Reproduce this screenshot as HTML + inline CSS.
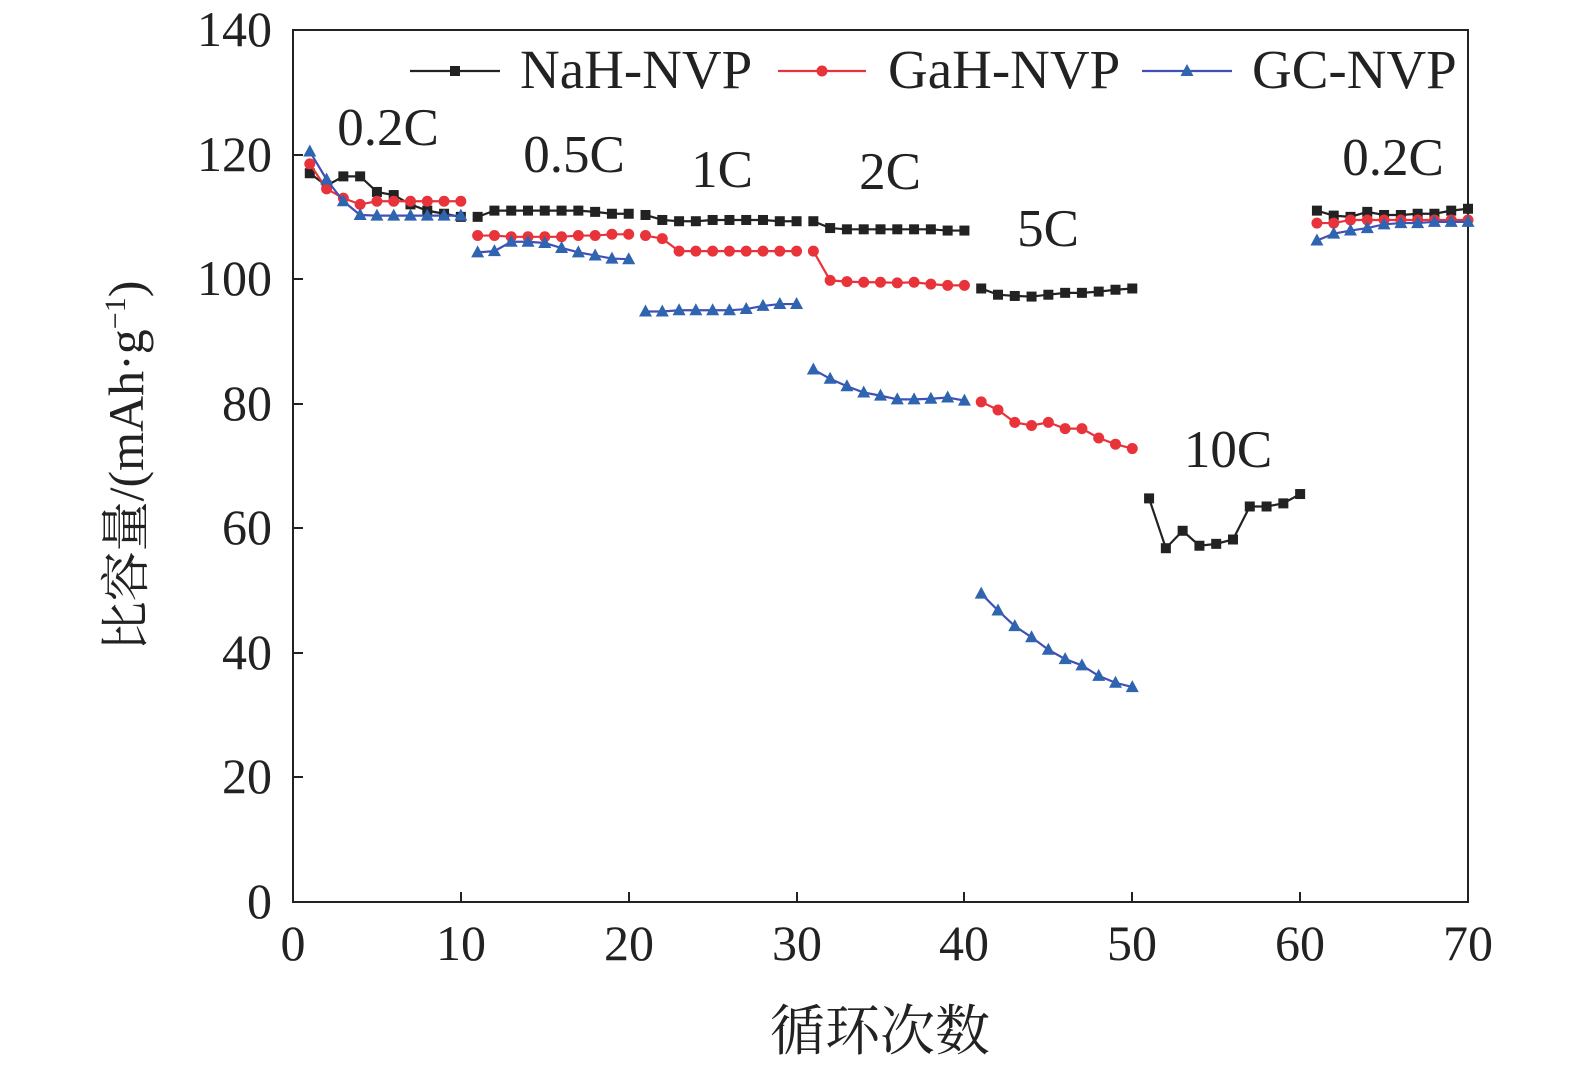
<!DOCTYPE html>
<html><head><meta charset="utf-8"><style>
html,body{margin:0;padding:0;background:#fff;}
svg text{font-family:"Liberation Serif","Noto Serif CJK SC",serif;fill:#222;}
</style></head><body>
<svg id="s" width="1575" height="1072" xmlns="http://www.w3.org/2000/svg">
<rect x="293" y="30" width="1175" height="872" fill="none" stroke="#222" stroke-width="2"/>
<g stroke="#222" stroke-width="2">
<line x1="293" y1="902" x2="293" y2="892"/><line x1="461" y1="902" x2="461" y2="892"/><line x1="629" y1="902" x2="629" y2="892"/><line x1="797" y1="902" x2="797" y2="892"/><line x1="964" y1="902" x2="964" y2="892"/><line x1="1132" y1="902" x2="1132" y2="892"/><line x1="1300" y1="902" x2="1300" y2="892"/>
<line x1="293" y1="777" x2="303" y2="777"/><line x1="293" y1="653" x2="303" y2="653"/><line x1="293" y1="528" x2="303" y2="528"/><line x1="293" y1="404" x2="303" y2="404"/><line x1="293" y1="279" x2="303" y2="279"/><line x1="293" y1="155" x2="303" y2="155"/>
</g>
<g font-size="50" text-anchor="middle">
<text x="293" y="960">0</text><text x="461" y="960">10</text><text x="629" y="960">20</text><text x="797" y="960">30</text><text x="964" y="960">40</text><text x="1132" y="960">50</text><text x="1300" y="960">60</text><text x="1468" y="960">70</text>
</g>
<g font-size="50" text-anchor="end">
<text x="272" y="918">0</text><text x="272" y="793">20</text><text x="272" y="669">40</text><text x="272" y="544">60</text><text x="272" y="420">80</text><text x="272" y="295">100</text><text x="272" y="171">120</text><text x="272" y="46">140</text>
</g>
<text x="880" y="1050" font-size="55" text-anchor="middle">循环次数</text>
<text transform="translate(143,466) rotate(-90)" font-size="50" text-anchor="middle">比容量/(mAh·g<tspan dy="-18" font-size="30">−1</tspan><tspan dy="18">)</tspan></text>
<g font-size="53" text-anchor="middle">
<text x="388" y="145">0.2C</text><text x="574" y="172">0.5C</text><text x="722" y="187">1C</text><text x="890" y="189">2C</text><text x="1048" y="246">5C</text><text x="1228" y="467">10C</text><text x="1393" y="175">0.2C</text>
</g>
<g font-size="55">
<text x="520" y="88">NaH-NVP</text><text x="888" y="88">GaH-NVP</text><text x="1252" y="88">GC-NVP</text>
</g>
<g id="g"></g>
</svg>
<script>
const X=i=>293+i*1175/70, Y=v=>902-v*872/140;
const A=[117,115,116.5,116.5,114,113.5,112,111,110.5,110,110,111,111,111,111,111,111,110.8,110.5,110.5,110.3,109.5,109.3,109.3,109.5,109.5,109.5,109.5,109.3,109.3,109.3,108.2,108,108,108,108,108,108,107.8,107.8,98.5,97.5,97.3,97.2,97.5,97.8,97.8,98,98.3,98.5,64.8,56.8,59.6,57.2,57.5,58.2,63.5,63.5,64,65.5,111,110.2,110,110.8,110.3,110.3,110.5,110.5,111,111.3];
const B=[118.5,114.5,113,112,112.5,112.5,112.5,112.5,112.5,112.5,107,107,106.8,106.8,106.8,106.8,107,107,107.2,107.2,107,106.5,104.5,104.5,104.5,104.5,104.5,104.5,104.5,104.5,104.5,99.8,99.6,99.5,99.5,99.4,99.5,99.2,99,99,80.3,79,77,76.5,77,76,76,74.5,73.5,72.8,null,null,null,null,null,null,null,null,null,null,109,109,109.5,109.5,109.5,109.5,109.5,109.5,109.5,109.5];
const C=[120.5,116,112.5,110.3,110.2,110.2,110.2,110.2,110.2,110.2,104.3,104.5,106,106,105.8,105,104.3,103.8,103.3,103.2,94.8,94.8,95,95,95,95,95.2,95.7,96,96,85.5,84,82.8,81.8,81.3,80.7,80.7,80.8,81,80.5,49.5,46.8,44.3,42.5,40.5,39,38,36.3,35.2,34.5,null,null,null,null,null,null,null,null,null,null,106.2,107.3,107.8,108.2,108.8,109,109,109.2,109.2,109.2];
let h='';
function mk(t,x,y,c){if(t==0)return `<rect x="${x-5}" y="${y-5}" width="10" height="10" fill="${c}"/>`;if(t==1)return `<circle cx="${x}" cy="${y}" r="5.5" fill="${c}"/>`;return `<polygon points="${x},${y-7} ${x-6.5},${y+5} ${x+6.5},${y+5}" fill="${c}"/>`;}
function series(d,t,lc,mc){let segs=[],cur=[];d.forEach((v,i)=>{if(i%10==0&&cur.length){segs.push(cur);cur=[];}if(v!=null)cur.push([X(i+1),Y(v)]);});if(cur.length)segs.push(cur);
segs.forEach(s=>{h+=`<polyline fill="none" stroke="${lc}" stroke-width="2.2" points="${s.map(p=>p.join(',')).join(' ')}"/>`;s.forEach(p=>h+=mk(t,p[0],p[1],mc));});}
series(A,0,'#222','#222');series(B,1,'#e8333a','#e8333a');series(C,2,'#4050b8','#2f64b0');
h+=`<line x1="410" y1="71" x2="500" y2="71" stroke="#222" stroke-width="2.2"/>`+mk(0,455,71,'#222');
h+=`<line x1="778" y1="71" x2="866" y2="71" stroke="#e8333a" stroke-width="2.2"/>`+mk(1,822,71,'#e8333a');
h+=`<line x1="1142" y1="71" x2="1232" y2="71" stroke="#4050b8" stroke-width="2.2"/>`+mk(2,1187,71,'#2f64b0');
document.getElementById('g').innerHTML=h;
</script>
</body></html>
